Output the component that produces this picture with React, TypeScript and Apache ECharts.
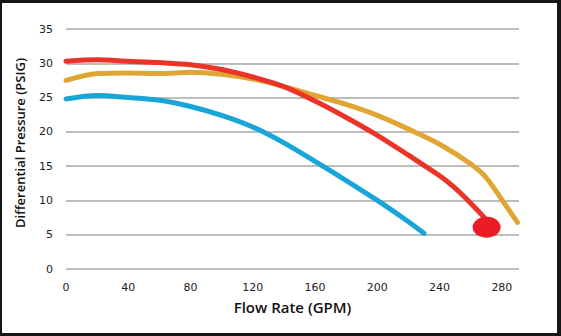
import React, { useEffect, useRef } from "react";
import * as echarts from "echarts";

const flowRed = [0, 20, 40, 60, 80, 100, 120, 140, 160, 180, 200, 220, 240, 250, 260, 270];
const psiRed = [30.3, 30.5, 30.3, 30.1, 29.8, 29.1, 28.0, 26.6, 24.5, 22.1, 19.5, 16.6, 13.6, 11.8, 9.6, 7.2];

const flowGold = [0, 20, 40, 60, 80, 100, 120, 140, 160, 180, 200, 220, 240, 260, 270, 280, 290];
const psiGold = [27.5, 28.5, 28.6, 28.5, 28.7, 28.4, 27.7, 26.6, 25.3, 24.0, 22.4, 20.4, 18.2, 15.3, 13.3, 10.1, 6.8];

const flowBlue = [0, 20, 40, 60, 80, 100, 120, 140, 160, 180, 200, 220, 230];
const psiBlue = [24.8, 25.3, 25.0, 24.6, 23.7, 22.4, 20.7, 18.4, 15.7, 12.9, 10.0, 6.9, 5.2];

const endPoint = [270.2, 6.1];

const xTicks = [0, 40, 80, 120, 160, 200, 240, 280];
const yTicks = [0, 5, 10, 15, 20, 25, 30, 35];

const pairs = (xs: number[], ys: number[]) => xs.map((x, i) => [x, ys[i]]);

export default function App() {
  const ref = useRef<HTMLDivElement>(null);
  useEffect(() => {
    if (!ref.current) return;
    const chart = echarts.init(ref.current, null, { renderer: "svg" });
    const lineSeries = (xs: number[], ys: number[], color: string) => ({
      type: "line",
      data: pairs(xs, ys),
      smooth: 0.3,
      showSymbol: false,
      lineStyle: { color, width: 5, cap: "round", join: "round" },
    });
    chart.setOption({
      animation: false,
      backgroundColor: "#ffffff",
      grid: { left: 64, right: 38, top: 26, bottom: 64 },
      xAxis: {
        type: "value",
        min: 0,
        max: 291,
        interval: 40,
        name: "Flow Rate (GPM)",
        nameLocation: "middle",
        nameGap: 30,
        nameTextStyle: { fontFamily: "Open Sans", fontWeight: 600, fontSize: 15, color: "#111" },
        axisLine: { show: false },
        axisTick: { show: false },
        splitLine: { show: false },
        axisLabel: {
          fontFamily: "DejaVu Sans",
          fontSize: 11,
          color: "#222",
          margin: 13,
          formatter: (v: number) => (xTicks.includes(v) ? String(v) : ""),
        },
      },
      yAxis: {
        type: "value",
        min: yTicks[0],
        max: yTicks[yTicks.length - 1],
        interval: 5,
        name: "Differential Pressure (PSIG)",
        nameLocation: "middle",
        nameGap: 40,
        nameTextStyle: { fontFamily: "Open Sans", fontWeight: 600, fontSize: 13, color: "#111", padding: [0, 0, 0, 12] },
        axisLine: { show: false },
        axisTick: { show: false },
        splitLine: { lineStyle: { color: "#bdbdbd", width: 2 } },
        axisLabel: { fontFamily: "DejaVu Sans", fontSize: 11, color: "#222", margin: 13 },
      },
      series: [
        lineSeries(flowBlue, psiBlue, "#18a6d9"),
        lineSeries(flowGold, psiGold, "#e0a634"),
        lineSeries(flowRed, psiRed, "#eb3328"),
        {
          type: "scatter",
          data: [endPoint],
          symbol: "circle",
          symbolSize: [28, 21],
          itemStyle: { color: "#ec1c24", opacity: 1 },
          z: 5,
        },
      ],
    });
    return () => chart.dispose();
  }, []);
  return (
    <div style={{ position: "fixed", left: 0, top: 0, width: 561, height: 336, background: "#161616" }}>
      <div ref={ref} style={{ position: "absolute", left: 2, top: 3, width: 555, height: 330 }} />
    </div>
  );
}
